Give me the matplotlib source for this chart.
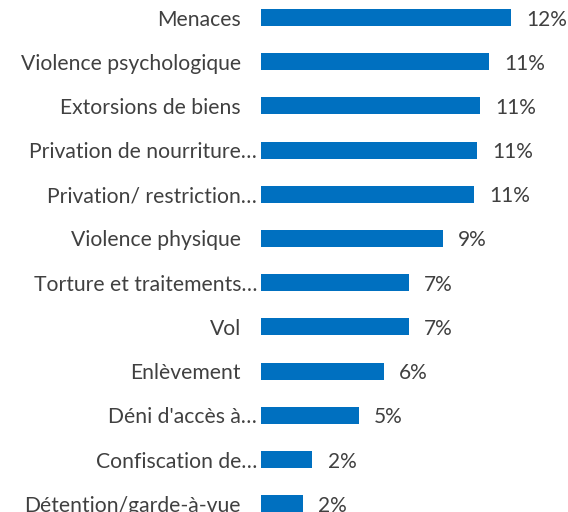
import matplotlib
matplotlib.use("Agg")
import matplotlib.pyplot as plt
from matplotlib.transforms import offset_copy

categories = ["Menaces", "Violence psychologique", "Extorsions de biens",
              "Privation de nourriture…", "Privation/ restriction…",
              "Violence physique", "Torture et traitements…", "Vol",
              "Enlèvement", "Déni d'accès à…", "Confiscation de…",
              "Détention/garde-à-vue"]
values = [12.2, 11.14, 10.69, 10.56, 10.4, 8.88, 7.21, 7.21, 5.99, 4.78, 2.5, 2.03]
value_labels = ["12%", "11%", "11%", "11%", "11%", "9%", "7%", "7%", "6%", "5%", "2%", "2%"]

plt.rcParams['font.family'] = ['Lato', 'DejaVu Sans']
txt_color = "#404040"
bar_color = "#0070C0"

W, H, dpi = 568, 512, 100
fig = plt.figure(figsize=(W / dpi, H / dpi), dpi=dpi)

left_px = 261
px_per_unit = 20.49
pitch = 44.2
top_center = 17.5

ax = fig.add_axes([left_px / W, 0, 1 - left_px / W, 1])
ypos = list(range(len(categories)))
ax.barh(ypos, values, height=17 / pitch, color=bar_color)
ax.set_xlim(0, (W - left_px) / px_per_unit)
y_top = -top_center / pitch
ax.set_ylim(y_top + H / pitch, y_top)
ax.axis("off")

for y, v, lab in zip(ypos, values, value_labels):
    ax.annotate(lab, (v, y), xytext=(11, 0), textcoords="offset points",
                ha="left", va="center_baseline", fontsize=15, color=txt_color)

for y, cat in zip(ypos, categories):
    shift = -4 if cat.endswith("…") else -20
    tr = offset_copy(ax.get_yaxis_transform(), fig=fig, x=shift, y=0, units="dots")
    ax.text(0, y, cat, transform=tr, ha="right", va="center_baseline",
            fontsize=15.2, color=txt_color, clip_on=False)

fig.savefig("out.png", dpi=dpi)
